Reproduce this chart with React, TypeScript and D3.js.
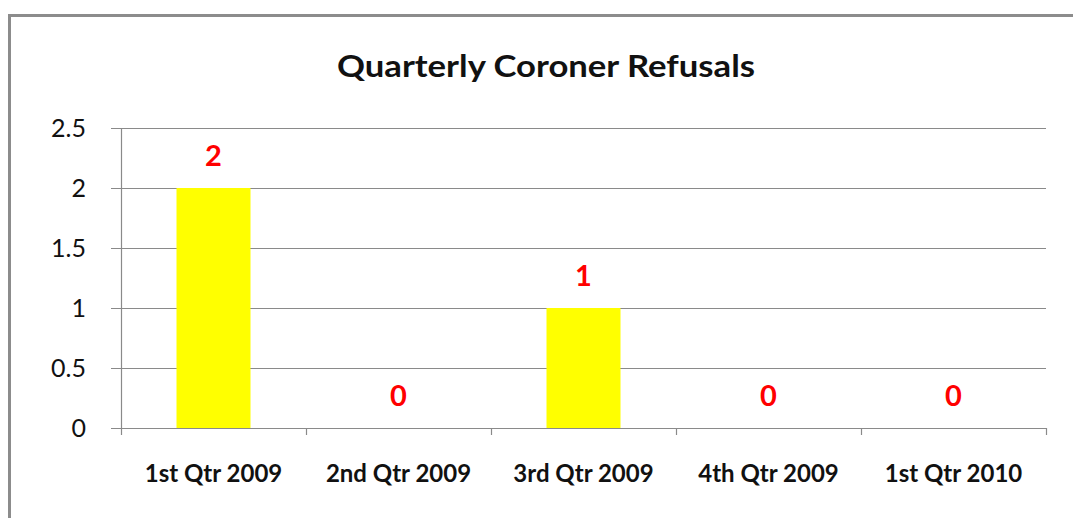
import { useEffect, useRef } from 'react';
import * as d3 from 'd3';

const categories = ['1st Qtr 2009', '2nd Qtr 2009', '3rd Qtr 2009', '4th Qtr 2009', '1st Qtr 2010'];
const values = [2, 0, 1, 0, 0];
const yTicks = [0, 0.5, 1, 1.5, 2, 2.5];

const App = () => {
    const chartRef = useRef<SVGSVGElement>(null);

    useEffect(() => {
        if (chartRef.current) {
            createChart();
        }
    }, []);

    const createChart = () => {
        const svg = d3.select(chartRef.current);
        svg.selectAll('*').remove();

        const width = 1073;
        const height = 518;
        const margin = { top: 128, right: 27, bottom: 90, left: 121 };
        const font = 'Lato, "Open Sans", sans-serif';

        svg.attr('width', width).attr('height', height);

        svg.append('rect').attr('width', width).attr('height', height).attr('fill', '#fff');

        // outer frame (runs off the right and bottom edges)
        svg.append('rect')
            .attr('x', 9.5)
            .attr('y', 15.5)
            .attr('width', 1100)
            .attr('height', 600)
            .attr('fill', 'none')
            .attr('stroke', '#8c8c8c')
            .attr('stroke-width', 3);

        const xScale = d3.scaleBand<string>()
            .domain(categories)
            .range([margin.left, width - margin.right])
            .paddingInner(0.6)
            .paddingOuter(0.3);

        const xOuter = d3.scaleBand<string>()
            .domain(categories)
            .range([margin.left, width - margin.right]);

        const yScale = d3.scaleLinear()
            .domain([0, 2.5])
            .range([height - margin.bottom, margin.top]);

        // gridlines
        svg.append('g')
            .selectAll('line')
            .data(yTicks)
            .enter()
            .append('line')
            .attr('x1', margin.left - 10)
            .attr('x2', width - margin.right)
            .attr('y1', (d) => Math.round(yScale(d)) + 0.5)
            .attr('y2', (d) => Math.round(yScale(d)) + 0.5)
            .attr('stroke', '#8a8a8a')
            .attr('stroke-width', 1.2);

        // y-axis line
        svg.append('line')
            .attr('x1', margin.left + 0.5)
            .attr('x2', margin.left + 0.5)
            .attr('y1', margin.top)
            .attr('y2', yScale(0) + 7)
            .attr('stroke', '#8a8a8a')
            .attr('stroke-width', 1.2);

        // x tick marks
        const tickXs = categories.map((c) => xOuter(c) || 0).concat([width - margin.right]);
        svg.append('g')
            .selectAll('line')
            .data(tickXs.slice(1))
            .enter()
            .append('line')
            .attr('x1', (d) => Math.round(d) + 0.5)
            .attr('x2', (d) => Math.round(d) + 0.5)
            .attr('y1', yScale(0))
            .attr('y2', yScale(0) + 7)
            .attr('stroke', '#8a8a8a')
            .attr('stroke-width', 1.2);

        // y tick labels
        svg.append('g')
            .selectAll('text')
            .data(yTicks)
            .enter()
            .append('text')
            .attr('x', 86)
            .attr('y', (d) => yScale(d) + 9)
            .attr('text-anchor', 'end')
            .style('font-family', font)
            .style('font-size', '25px')
            .attr('fill', '#111')
            .text((d) => String(d));

        // bars
        svg.append('g')
            .selectAll('rect')
            .data(values)
            .enter()
            .append('rect')
            .attr('x', (_d, i) => xScale(categories[i]) || 0)
            .attr('y', (d) => yScale(d))
            .attr('width', xScale.bandwidth())
            .attr('height', (d) => yScale(0) - yScale(d))
            .attr('fill', '#ffff00');

        // value labels
        svg.append('g')
            .selectAll('text')
            .data(values)
            .enter()
            .append('text')
            .attr('x', (_d, i) => (xOuter(categories[i]) || 0) + xOuter.bandwidth() / 2)
            .attr('y', (d) => yScale(d) - 22)
            .attr('text-anchor', 'middle')
            .style('font-family', font)
            .style('font-size', '29px')
            .style('font-weight', 'bold')
            .attr('fill', '#ff0000')
            .text((d) => String(d));

        // category labels
        svg.append('g')
            .selectAll('text')
            .data(categories)
            .enter()
            .append('text')
            .attr('x', (d) => (xOuter(d) || 0) + xOuter.bandwidth() / 2)
            .attr('y', 482)
            .attr('text-anchor', 'middle')
            .style('font-family', font)
            .style('font-size', '24px')
            .style('font-weight', 'bold')
            .attr('fill', '#111')
            .text((d) => d);

        // title
        svg.append('text')
            .attr('x', 546)
            .attr('y', 77)
            .attr('text-anchor', 'middle')
            .attr('textLength', 418)
            .attr('lengthAdjust', 'spacingAndGlyphs')
            .style('font-family', font)
            .style('font-size', '30px')
            .style('font-weight', 'bold')
            .attr('fill', '#111')
            .text('Quarterly Coroner Refusals');
    };

    return <svg ref={chartRef} style={{ position: 'absolute', left: 0, top: 0 }} />;
};

export default App;
